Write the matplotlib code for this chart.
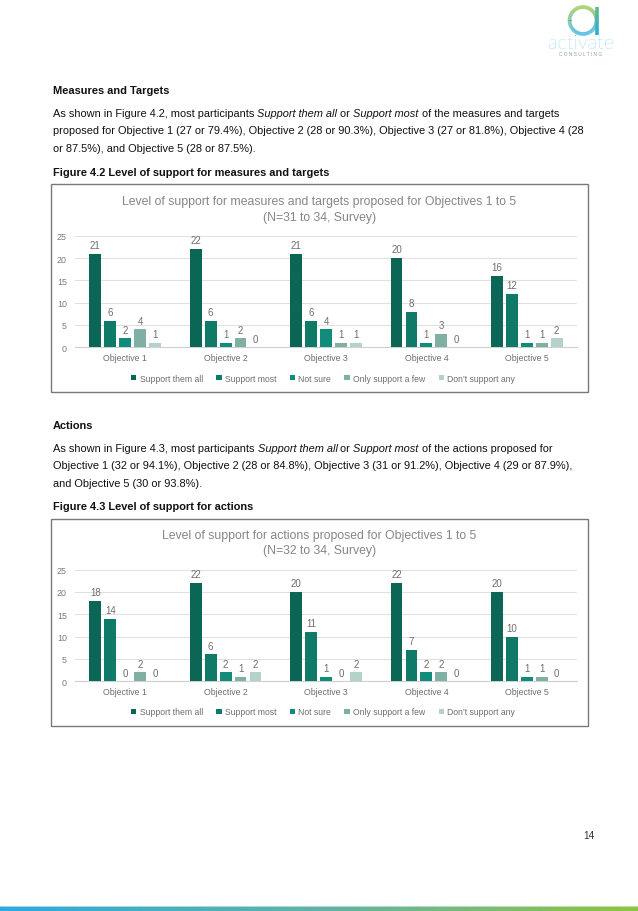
import matplotlib
matplotlib.use('Agg')
import matplotlib.pyplot as plt
import numpy as np
from matplotlib.collections import LineCollection
from matplotlib.patches import Rectangle
import matplotlib.colors as mcolors

W, H, DPI = 638, 912, 100

# ---------------- data ----------------
categories = ['Objective 1', 'Objective 2', 'Objective 3', 'Objective 4', 'Objective 5']
series_names = ['Support them all', 'Support most', 'Not sure', 'Only support a few', 'Don\u2019t support any']
y_ticks = [0, 5, 10, 15, 20, 25]

# Figure 4.2 - measures and targets
m_support_all = [21, 22, 21, 20, 16]
m_support_most = [6, 6, 6, 8, 12]
m_not_sure = [2, 1, 4, 1, 1]
m_only_few = [4, 2, 1, 3, 1]
m_dont_any = [1, 0, 1, 0, 2]

# Figure 4.3 - actions
a_support_all = [18, 22, 20, 22, 20]
a_support_most = [14, 6, 11, 7, 10]
a_not_sure = [0, 2, 1, 2, 1]
a_only_few = [2, 1, 0, 2, 1]
a_dont_any = [0, 2, 2, 0, 0]

colors = ['#0C6656', '#107A69', '#128C7A', '#7FB0A3', '#B4D2CA']

FONT = 'Liberation Sans'
TXT = '#111111'

fig = plt.figure(figsize=(W / DPI, H / DPI), dpi=DPI)
fig.patch.set_facecolor('white')

bg = fig.add_axes([0, 0, 1, 1])
bg.set_xlim(0, W)
bg.set_ylim(H, 0)
bg.axis('off')
renderer = fig.canvas.get_renderer()


def rect(l, t, r, b):
    return [l / W, 1 - b / H, (r - l) / W, (b - t) / H]


def adv(s, kw):
    t1 = bg.text(0, 0, s + '|', **kw)
    w1 = t1.get_window_extent(renderer).width
    t1.remove()
    t2 = bg.text(0, 0, '|', **kw)
    w2 = t2.get_window_extent(renderer).width
    t2.remove()
    return w1 - w2


def draw_line(x, yc, segs, size=7.9):
    y = yc + 3.8
    for s, st in segs:
        kw = dict(fontsize=size, family=FONT, color=TXT, va='baseline', ha='left',
                  style='italic' if st == 'i' else 'normal',
                  fontweight='bold' if st == 'b' else 'normal')
        bg.text(x, y, s, **kw)
        x += adv(s, kw)


X0 = 53
# ---------- text block 1 ----------
draw_line(X0, 90, [('Measures and Targets', 'b')])
draw_line(X0, 113.3, [('As shown in Figure 4.2, most participants ', 'n'), ('Support them all ', 'i'),
                      ('or ', 'n'), ('Support most ', 'i'), ('of the measures and targets', 'n')])
draw_line(X0, 130.7, [('proposed for Objective 1 (27 or 79.4%), Objective 2 (28 or 90.3%), Objective 3 (27 or 81.8%), Objective 4 (28', 'n')])
draw_line(X0, 148.3, [('or 87.5%), and Objective 5 (28 or 87.5%).', 'n')])
draw_line(X0, 171.7, [('Figure 4.2 Level of support for measures and targets', 'b')])

# ---------- text block 2 ----------
draw_line(X0, 425, [('Actions', 'b')])
draw_line(X0, 448.3, [('As shown in Figure 4.3, most participants ', 'n'), ('Support them all ', 'i'),
                      ('or ', 'n'), ('Support most ', 'i'), ('of the actions proposed for', 'n')])
draw_line(X0, 465.7, [('Objective 1 (32 or 94.1%), Objective 2 (28 or 84.8%), Objective 3 (31 or 91.2%), Objective 4 (29 or 87.9%),', 'n')])
draw_line(X0, 483.3, [('and Objective 5 (30 or 93.8%).', 'n')])
draw_line(X0, 506.7, [('Figure 4.3 Level of support for actions', 'b')])

# page number
bg.text(595, 836, '14', fontsize=7.2, family=FONT, color='#333333', ha='right', va='center')


# ---------- charts ----------
def draw_chart(values, title, box_t, box_b, ax_t, ax_b, title_y, leg_y):
    bg.add_patch(Rectangle((51, box_t), 588 - 51, box_b - box_t, fill=False,
                           edgecolor='#7a7a7a', lw=1.0, zorder=5))
    bg.text(319.5, title_y, title, fontsize=8.8, family=FONT, color='#868686',
            ha='center', va='center', linespacing=1.34)
    ax = fig.add_axes(rect(75, ax_t, 577, ax_b))
    ax.set_facecolor('none')
    x = np.arange(len(categories))
    pitch = 0.149
    conts = []
    for j, (vals, c, name) in enumerate(zip(values, colors, series_names)):
        bc = ax.bar(x + (j - 2) * pitch, vals, width=0.118, color=c, label=name, zorder=3)
        ax.bar_label(bc, padding=2.6, fontsize=7.0, color='#6e6e6e', family=FONT)
        conts.append(bc)
    ax.set_xlim(-0.5, len(categories) - 0.5)
    ax.set_ylim(0, 25)
    ax.set_yticks(y_ticks)
    ax.set_xticks(x)
    ax.set_xticklabels(categories)
    for s in ['top', 'right', 'left']:
        ax.spines[s].set_visible(False)
    ax.spines['bottom'].set_color('#d0d0d0')
    ax.spines['bottom'].set_linewidth(0.8)
    ax.yaxis.grid(True, color='#e0e0e0', lw=0.8)
    ax.set_axisbelow(True)
    ax.tick_params(axis='y', length=0, pad=5.8, labelsize=6.4, labelcolor='#7a7a7a')
    ax.tick_params(axis='x', length=0, pad=4.2, labelsize=6.3, labelcolor='#6e6e6e')
    for lab in ax.get_xticklabels() + ax.get_yticklabels():
        lab.set_family(FONT)
    leg = ax.legend(handles=conts, labels=series_names, loc='center',
                    bbox_to_anchor=(323 / W, 1 - leg_y / H), bbox_transform=fig.transFigure,
                    ncol=5, frameon=False, handlelength=0.65, handleheight=0.65,
                    handletextpad=0.35, columnspacing=1.55, borderpad=0,
                    prop={'family': FONT, 'size': 6.2})
    for t in leg.get_texts():
        t.set_color('#6e6e6e')
    return ax


draw_chart([m_support_all, m_support_most, m_not_sure, m_only_few, m_dont_any],
           'Level of support for measures and targets proposed for Objectives 1 to 5\n(N=31 to 34, Survey)',
           185, 393, 236.7, 348.3, 210, 379)
draw_chart([a_support_all, a_support_most, a_not_sure, a_only_few, a_dont_any],
           'Level of support for actions proposed for Objectives 1 to 5\n(N=32 to 34, Survey)',
           520, 727, 570.5, 682.3, 543.5, 713)

# ---------- logo ----------
green = np.array(mcolors.to_rgb('#8CC63F'))
blue = np.array(mcolors.to_rgb('#2AACE2'))
cx, cy, r = 583, 21.5, 13.5
th = np.linspace(0, 2 * np.pi, 240)
px = cx + r * np.cos(th)
py = cy + r * np.sin(th)
pts = np.column_stack([px, py]).reshape(-1, 1, 2)
segs = np.concatenate([pts[:-1], pts[1:]], axis=1)
fr = ((py[:-1] + py[1:]) / 2 - (cy - r)) / (2 * r)
cols = [tuple(green * (1 - f) + blue * f) for f in fr]
bg.add_collection(LineCollection(segs, colors=cols, linewidths=2.6, zorder=6))
sy = np.linspace(cy - r, cy + r + 1, 30)
spts = np.column_stack([np.full_like(sy, cx + r), sy]).reshape(-1, 1, 2)
ssegs = np.concatenate([spts[:-1], spts[1:]], axis=1)
sfr = ((sy[:-1] + sy[1:]) / 2 - (cy - r)) / (2 * r)
scols = [tuple(green * (1 - min(f, 1)) * 0.6 + blue * (0.4 + 0.6 * min(f, 1))) for f in sfr]
bg.add_collection(LineCollection(ssegs, colors=scols, linewidths=2.6, zorder=6))
bg.text(581.5, 44, 'activate', fontsize=14.5, family='Lato', color='#45B8E4',
        ha='center', va='center', fontweight='light')
bg.text(581, 55, 'C O N S U L T I N G', fontsize=3.4, family=FONT, color='#9a9a9a',
        ha='center', va='center')

# ---------- bottom gradient bar ----------
grad = np.linspace(0, 1, 256)
cmap = mcolors.LinearSegmentedColormap.from_list('g', ['#2EA9E0', '#62B3A6', '#8DC63F'])
bg.imshow(grad[np.newaxis, :], extent=[0, W, 912, 907.5], aspect='auto', cmap=cmap, zorder=1)
bg.plot([0, W], [907.2, 907.2], color='#d8ece8', lw=0.5)
bg.set_xlim(0, W)
bg.set_ylim(H, 0)

fig.savefig('out.png', dpi=DPI, facecolor='white')
